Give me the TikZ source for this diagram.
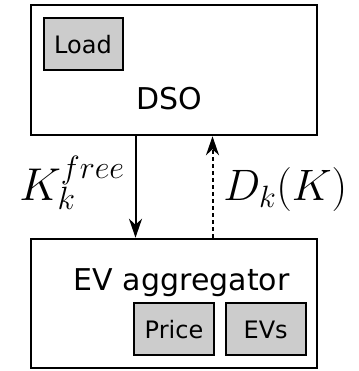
\RequirePackage{fix-cm}
\documentclass[tikz,border=0pt]{standalone}
\usepackage{fontspec}
\setmainfont{DejaVu Sans}
\usetikzlibrary{arrows.meta}
\tikzset{
  block/.style={draw, line width=2.5pt, minimum width=286pt, minimum height=130pt, inner sep=0pt},
  part/.style={draw, line width=2pt, fill=black!20, minimum width=79pt, minimum height=52pt,
    inner sep=0pt, font=\fontsize{24}{28}\selectfont},
  big/.style={font=\fontsize{30}{36}\selectfont, anchor=base},
  sym/.style={font=\fontsize{44}{50}\selectfont, anchor=base},
  tip/.style={-{Stealth[length=19pt, width=13pt, inset=6pt]}},
}
\begin{document}
\begin{tikzpicture}[x=1pt, y=1pt, line width=2pt]
  \useasboundingbox (0,0) rectangle (358,371);
  % the two agents
  \node[block] (dso) at (174,301) {};
  \node[block, minimum height=129pt] (agg) at (174,67.5) {};
  \node[big] (dsotext) at (169.5,261) {DSO};
  \node[big] (aggtext) at (181.7,80) {EV aggregator};
  % their inner parts
  \node[part] (load) at (83,326.5) {Load};
  \node[part, minimum width=80pt] (price) at (174,41.5) {Price};
  \node[part, minimum width=80pt] (evs) at (265.7,41.5) {EVs};
  % exchanged signals
  \draw[tip] ([xshift=-38.5pt]dso.south) -- ([xshift=-38.5pt]agg.north);
  \draw[tip, dash pattern=on 4pt off 3pt] ([xshift=38.5pt]agg.north) -- ([xshift=38.5pt]dso.south);
  \node[sym, font=\fontsize{46}{52}\selectfont, anchor=base east] (kfree) at (129,170) {$K_k^{free}$};
  \node[sym, anchor=base west] (dk) at (219,170) {$D_k(K)$};
\end{tikzpicture}
\end{document}
